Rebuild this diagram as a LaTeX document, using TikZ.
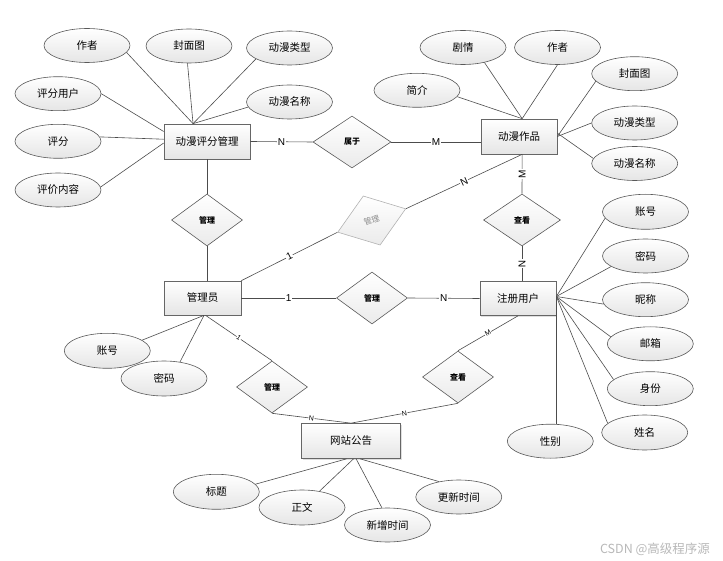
\documentclass[tikz,border=0pt]{standalone}
\usepackage{fontspec}
\setmainfont{Noto Sans CJK SC}
\newfontfamily\cardfont{Liberation Sans}
\usetikzlibrary{shapes.geometric,shadows}
\begin{document}
\begin{tikzpicture}[x=1pt,y=-1pt,
  conn/.style={draw=black!70, line width=0.6pt},
  attr/.style={ellipse, draw=black!65, line width=0.6pt, top color=white, bottom color=black!10,
    minimum width=86pt, minimum height=34pt, inner sep=0pt, font=\fontsize{10.5}{12}\selectfont},
  ent/.style={rectangle, draw=black!60, line width=0.7pt, top color=white, bottom color=black!10,
    minimum height=35pt, inner sep=0pt, font=\fontsize{10.5}{12}\selectfont,
    drop shadow={shadow xshift=1.2pt, shadow yshift=-1.2pt, opacity=0.25}},
  rel/.style={diamond, draw=black!65, line width=0.6pt, top color=white, bottom color=black!8,
    minimum width=71pt, minimum height=52pt, inner sep=0pt, font=\bfseries\fontsize{8}{9}\selectfont},
  card/.style={fill=white, inner sep=0.8pt, font=\cardfont\fontsize{10}{11}\selectfont},
  cards/.style={fill=white, inner sep=0.5pt, font=\cardfont\fontsize{7}{8}\selectfont, sloped},
]
\useasboundingbox (0,0) rectangle (723,561);

% entities
\node[ent, minimum width=86pt] (rate) at (207,141.5) {动漫评分管理};
\node[ent, minimum width=76pt] (works) at (519,136.5) {动漫作品};
\node[ent, minimum width=77pt, minimum height=34pt] (admin) at (202.5,298) {管理员};
\node[ent, minimum width=76pt, minimum height=34pt] (reg) at (518,298.5) {注册用户};
\node[ent, minimum width=99pt] (notice) at (351,441) {网站公告};

% relationships
\node[rel, minimum width=78pt] (belong) at (352,142) {属于};
\node[rel] (mg1) at (207,220) {管理};
\node[rel, minimum width=72pt, draw=black!30, text=black!45, font=\fontsize{8}{9}\selectfont, rotate=19] (gm) at (371.7,220.5) {管理};
\node[rel, minimum width=77pt] (chk1) at (522,220) {查看};
\node[rel] (mg2) at (372,298) {管理};
\node[rel] (mg3) at (272,387) {管理};
\node[rel] (chk2) at (458,377) {查看};

% attributes of 动漫评分管理
\node[attr] (a1) at (87,45.5) {作者};
\node[attr] (a2) at (189,46) {封面图};
\node[attr] (a3) at (289.5,48) {动漫类型};
\node[attr] (a4) at (289.5,102) {动漫名称};
\node[attr] (a5) at (58,93.7) {评分用户};
\node[attr] (a6) at (58,141.3) {评分};
\node[attr] (a7) at (58,190) {评价内容};

% attributes of 动漫作品
\node[attr] (w1) at (463,47.5) {剧情};
\node[attr] (w2) at (557.5,47.5) {作者};
\node[attr] (w3) at (417,90.3) {简介};
\node[attr] (w4) at (634.7,73.7) {封面图};
\node[attr] (w5) at (634.7,123) {动漫类型};
\node[attr] (w6) at (634.7,163.5) {动漫名称};

% attributes of 管理员
\node[attr, minimum height=35pt] (d1) at (107.3,350.8) {账号};
\node[attr, minimum height=35pt] (d2) at (164,378.5) {密码};

% attributes of 网站公告
\node[attr, minimum height=35pt] (n1) at (216.3,491.8) {标题};
\node[attr, minimum height=35pt] (n2) at (302,507.5) {正文};
\node[attr] (n3) at (387.5,525) {新增时间};
\node[attr] (n4) at (458.8,497) {更新时间};

% attributes of 注册用户
\node[attr, minimum height=35pt] (r1) at (645.5,211.8) {账号};
\node[attr] (r2) at (645.5,256) {密码};
\node[attr] (r3) at (645.5,299.7) {昵称};
\node[attr] (r4) at (650.3,343.8) {邮箱};
\node[attr] (r5) at (650.3,388.7) {身份};
\node[attr, minimum height=35pt] (r6) at (644.7,432.5) {姓名};
\node[attr] (r7) at (550.3,441.2) {性别};

% attribute connectors
\draw[conn] (a1.-10) -- (rate.128);
\draw[conn] (a2.-95) -- (rate.128);
\draw[conn] (a3.-162) -- (rate.128);
\draw[conn] (a4.-173) -- (rate.128);
\draw[conn] (a5.east) -- (rate.167);
\draw[conn] (a6.6) -- (rate.177);
\draw[conn] (a7.4) -- (rate.182);

\draw[conn] (w1.-35) -- (works.80);
\draw[conn] (w2.south) -- (works.80);
\draw[conn] (w3.-9) -- (works.80);
\draw[conn] (w4.-169) -- (works.east);
\draw[conn] (w5.west) -- (works.east);
\draw[conn] (w6.173) -- (works.5);

\draw[conn] (d1.17) -- (admin.-85);
\draw[conn] (d2.46) -- (admin.-85);

\draw[conn] (n1.11) -- (notice.-104);
\draw[conn] (n2.43) -- (notice.-82);
\draw[conn] (n3.108) -- (notice.-74);
\draw[conn] (n4.142) -- (notice.-63);

\draw[conn] (r1.-171) -- (reg.3);
\draw[conn] (r2.-163) -- (reg.3);
\draw[conn] (r3.-174) -- (reg.3);
\draw[conn] (r4.170) -- (reg.3);
\draw[conn] (r5.166) -- (reg.3);
\draw[conn] (r6.166) -- (reg.3);
\draw[conn] (reg.east) -- (reg.east |- r7.north);

% relationship connectors
\draw[conn] (rate.east) -- node[card] {N} (belong.west);
\draw[conn] (belong.east) -- node[card] {M} (belong.east -| works.west);
\draw[conn] (rate.south) -- (mg1.north);
\draw[conn] (mg1.south) -- (mg1.south |- admin.north);
\draw[conn] (admin.north east) -- node[card, sloped] {1} (gm.west);
\draw[conn] (gm.east) -- node[card, sloped] {N} (works.-80);
\draw[conn] (works.-80) -- node[card, sloped] {M} (chk1.north);
\draw[conn] (chk1.south) -- node[card, sloped] {N} (chk1.south |- reg.north);
\draw[conn] (admin.east) -- node[card] {1} (mg2.west);
\draw[conn] (mg2.east) -- node[card] {N} (reg.west);
\draw[conn] (admin.-80) -- node[cards] {1} (mg3.north);
\draw[conn] (mg3.south) -- node[cards] {N} (notice.north);
\draw[conn] (reg.south) -- node[cards] {M} (chk2.north);
\draw[conn] (chk2.south) -- node[cards] {N} (notice.north);

% watermark
\node[text=black!28, font=\fontsize{12.5}{14}\selectfont] (wm) at (655,549) {CSDN @高级程序源};
\end{tikzpicture}
\end{document}
